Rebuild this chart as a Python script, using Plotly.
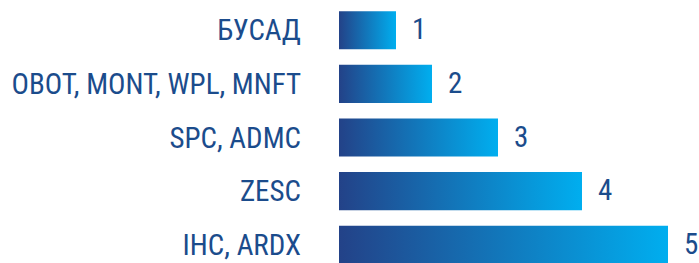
import plotly.graph_objects as go

categories = ["БУСАД", "OBOT, MONT, WPL, MNFT", "SPC, ADMC", "ZESC", "IHC, ARDX"]
values = [57, 93, 159, 243, 329]
rank_labels = ["1", "2", "3", "4", "5"]

dark = "#234288"
light = "#00AEEF"
text_color = "#1B4C8C"
font_family = "Roboto Condensed, Liberation Sans Narrow, sans-serif"
half = 0.355

fig = go.Figure()
for i, (cat, v) in enumerate(zip(categories, values)):
    fig.add_trace(go.Scatter(
        x=[0, v, v, 0, 0],
        y=[i - half, i - half, i + half, i + half, i - half],
        mode="lines", line=dict(width=0), fill="toself",
        fillgradient=dict(type="horizontal", colorscale=[[0, dark], [1, light]]),
        hoverinfo="skip", showlegend=False,
    ))
    fig.add_annotation(x=v, y=i, text=rank_labels[i], showarrow=False,
                       xanchor="left", xshift=15, yshift=1, borderpad=0,
                       font=dict(size=29, color=text_color, family=font_family))

fig.update_layout(
    width=699, height=263,
    margin=dict(l=339, r=0, t=0, b=0),
    paper_bgcolor="white", plot_bgcolor="white",
    xaxis=dict(range=[0, 360], visible=False),
    yaxis=dict(range=[4.341, -0.565], tickvals=list(range(len(categories))),
               ticktext=categories, showgrid=False, zeroline=False,
               showline=False, ticks="", ticklabelstandoff=37, automargin=False,
               tickfont=dict(size=29, color=text_color, family=font_family)),
)
# remove the default 8px page margin so the figure fills the window exactly
fig.write_html("out.html", config={"displayModeBar": False},
               post_script="document.body.style.margin='0';document.body.style.overflow='hidden';")
